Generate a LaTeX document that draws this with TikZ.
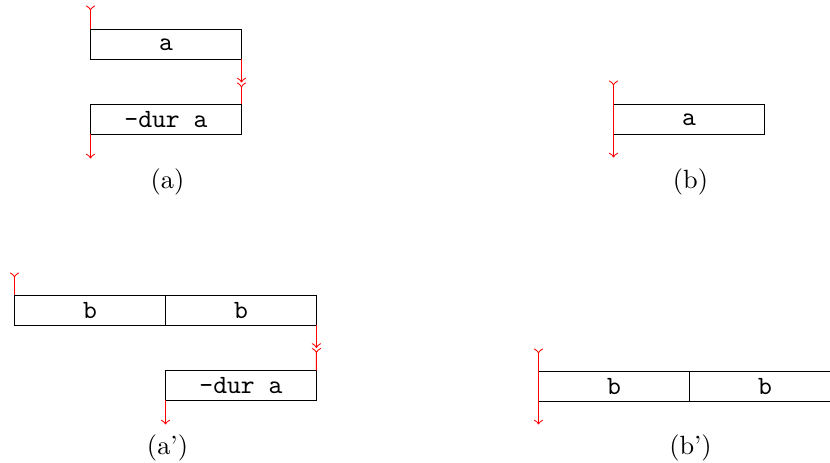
\documentclass[tikz,border=0pt]{standalone}
\begin{document}
\begin{tikzpicture}[x=0.013333cm,y=-0.013333cm,
  blk/.style={draw,minimum width=2.0133cm,minimum height=0.4cm,inner sep=0pt,outer sep=0pt,anchor=north west,font=\ttfamily},
  flow/.style={red,line width=0.4pt},
  captxt/.style={inner sep=0pt}]
\useasboundingbox (-0.5,-0.5) rectangle (829.5,462.5);
% (a)
\node[blk] (a1) at (90,29) {a};
\node[blk] (a2) at (90,104) {-dur a};
\coordinate (a1in) at (a1.north west |- {(0,5)});
\coordinate (a1mid) at (a1.south east |- {(0,82)});
\coordinate (a2out) at (a2.south west |- {(0,158)});
\draw[flow,>-] (a1in) -- (a1.north west);
\draw[flow,->] (a1.south east) -- (a1mid);
\draw[flow,>-] (a1mid) -- (a2.north east);
\draw[flow,->] (a2.south west) -- (a2out);
\node[captxt] (capa) at (167,181) {(a)};
% (b)
\node[blk] (b1) at (613,104) {a};
\coordinate (b1in) at (b1.north west |- {(0,80)});
\coordinate (b1out) at (b1.south west |- {(0,157)});
\draw[flow,>->] (b1in) -- (b1out);
\node[captxt] (capb) at (690,181) {(b)};
% (a')
\node[blk] (c1) at (14,295) {b};
\node[blk] (c2) at (c1.north east) {b};
\node[blk] (c3) at (165,370) {-dur a};
\coordinate (c1in) at (c1.north west |- {(0,272)});
\coordinate (c1mid) at (c2.south east |- {(0,347.5)});
\coordinate (c3out) at (c3.south west |- {(0,424)});
\draw[flow,>-] (c1in) -- (c1.north west);
\draw[flow,->] (c2.south east) -- (c1mid);
\draw[flow,>-] (c1mid) -- (c3.north east);
\draw[flow,->] (c3.south west) -- (c3out);
\node[captxt] (capc) at (167,447) {(a')};
% (b')
\node[blk] (d1) at (538,371) {b};
\node[blk] (d2) at (d1.north east) {b};
\coordinate (d1in) at (d1.north west |- {(0,348)});
\coordinate (d1out) at (d1.south west |- {(0,424)});
\draw[flow,>->] (d1in) -- (d1out);
\node[captxt] (capd) at (690,447) {(b')};
\end{tikzpicture}
\end{document}
